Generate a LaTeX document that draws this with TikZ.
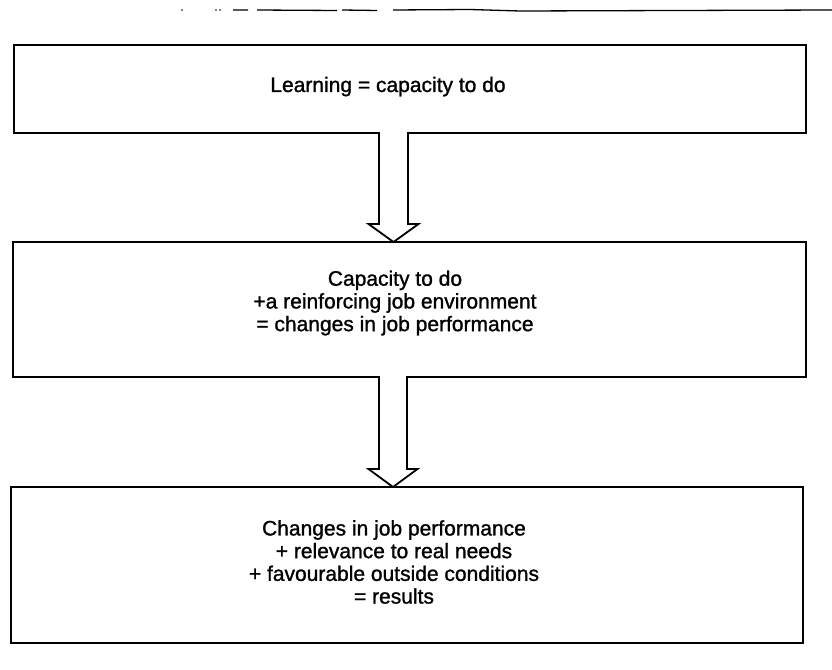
\documentclass[tikz,border=0pt]{standalone}
\usepackage{fontspec}
\setmainfont{Liberation Sans}
\newfontfamily\scanfont[FakeBold=1.2]{Liberation Sans}
\usetikzlibrary{calc}
\begin{document}
\begin{tikzpicture}[x=1pt,y=-1pt,
  box/.style={draw, line width=1.8pt, inner sep=0pt, outer sep=0pt},
  lbl/.style={font=\scanfont\fontsize{21}{22.7}\selectfont, align=center, inner sep=0pt},
  arr/.style={draw, line width=1.8pt, line join=miter},
  scan/.style={line width=1.3pt}]
\useasboundingbox (0,0) rectangle (832,669);
% stray scan line at the top
\fill (182,10) circle (0.8);
\fill (216,10) circle (0.8);
\fill (220,10) circle (0.8);
\draw[scan] (233,10) -- (248,10) (257,10) -- (337,10.5) (342,10) -- (377,10.5)
  (393,10) -- (470,9.5) -- (520,11) -- (832,10);
% boxes
\node[box, minimum width=792pt, minimum height=88pt] (b1) at (410,89) {};
\node[box, minimum width=793pt, minimum height=135pt] (b2) at (409.5,309.5) {};
\node[box, minimum width=792pt, minimum height=156pt] (b3) at (407,565) {};
% texts
\node[lbl, anchor=base] (t1) at (388,92) {Learning = capacity to do};
\node[lbl] (t2) at (395,303) {Capacity to do\\+a reinforcing job environment\\= changes in job performance};
\node[lbl] (t3) at (394,562) {Changes in job performance\\+ relevance to real needs\\+ favourable outside conditions\\= results};
% hollow block arrows
\coordinate (c1) at (393.5,0);
\coordinate (c2) at (393,0);
\fill[white] ($(c1 |- b1.south)+(-13.5,-1.5)$) rectangle ($(c1 |- b1.south)+(13.5,1.5)$);
\draw[arr] ($(c1 |- b1.south)+(-14.5,0)$) -- ($(c1 |- b2.north)+(-14.5,-18)$)
  -- ($(c1 |- b2.north)+(-25,-18)$) -- (c1 |- b2.north)
  -- ($(c1 |- b2.north)+(25,-18)$) -- ($(c1 |- b2.north)+(14.5,-18)$)
  -- ($(c1 |- b1.south)+(14.5,0)$);
\fill[white] ($(c2 |- b2.south)+(-13,-1.5)$) rectangle ($(c2 |- b2.south)+(13,1.5)$);
\draw[arr] ($(c2 |- b2.south)+(-14,0)$) -- ($(c2 |- b3.north)+(-14,-18)$)
  -- ($(c2 |- b3.north)+(-24.5,-18)$) -- (c2 |- b3.north)
  -- ($(c2 |- b3.north)+(24.5,-18)$) -- ($(c2 |- b3.north)+(14,-18)$)
  -- ($(c2 |- b2.south)+(14,0)$);
\end{tikzpicture}
\end{document}
